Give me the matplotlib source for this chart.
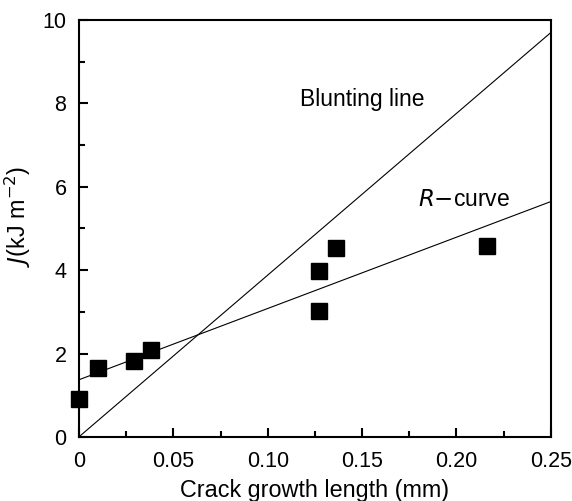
import matplotlib
matplotlib.use("Agg")
import matplotlib.pyplot as plt
import numpy as np
from matplotlib.ticker import MultipleLocator

plt.rcParams['font.family'] = ['Liberation Sans', 'DejaVu Sans']

# Data
crack_growth = [0.0, 0.010, 0.029, 0.038, 0.127, 0.127, 0.136, 0.216]
J_values = [0.91, 1.65, 1.83, 2.09, 3.98, 3.03, 4.52, 4.58]

blunting_slope = 38.8          # kJ m^-2 per mm
r_curve_intercept = 1.37
r_curve_slope = 17.1

x_line = np.array([0.0, 0.25])

fig = plt.figure(figsize=(5.72, 5.01), dpi=100)
ax = fig.add_axes([0.138, 0.128, 0.825, 0.832])

ax.plot(x_line, blunting_slope * x_line, color='black', lw=0.8)
ax.plot(x_line, r_curve_intercept + r_curve_slope * x_line, color='black', lw=0.8)
ax.plot(crack_growth, J_values, 's', color='black', markersize=12, clip_on=False, zorder=5)

ax.set_xlim(0, 0.25)
ax.set_ylim(0, 10)
ax.xaxis.set_major_locator(MultipleLocator(0.05))
ax.xaxis.set_minor_locator(MultipleLocator(0.025))
ax.yaxis.set_major_locator(MultipleLocator(2))
ax.yaxis.set_minor_locator(MultipleLocator(1))
ax.xaxis.set_major_formatter(plt.FuncFormatter(lambda v, p: '0' if abs(v) < 1e-9 else f'{v:.2f}'))
ax.yaxis.set_major_formatter(plt.FuncFormatter(lambda v, p: f'{v:.0f}'))

ax.tick_params(which='both', direction='in', top=False, right=False, width=1.5, labelsize=15.5)
ax.tick_params(which='major', length=6.5)
ax.tick_params(axis='x', which='major', pad=10)
ax.tick_params(axis='y', which='major', pad=9)
ax.tick_params(which='minor', length=4)
for s in ax.spines.values():
    s.set_linewidth(1.5)

ax.text(0.117, 8.1, 'Blunting line', fontsize=16.5, va='center', ha='left')
ax.text(0.1796, 5.7, r'$\it{R}$$-$curve', fontsize=16.5, va='center', ha='left')

ax.set_xlabel('Crack growth length (mm)', fontsize=16.8)
ax.xaxis.set_label_coords(0.5, -0.1)
ax.set_ylabel(r'$\it{J}$(kJ m$^{-2}$)', fontsize=16.8)
ax.yaxis.set_label_coords(-0.097, 0.53)

fig.savefig('out.png', dpi=100)
